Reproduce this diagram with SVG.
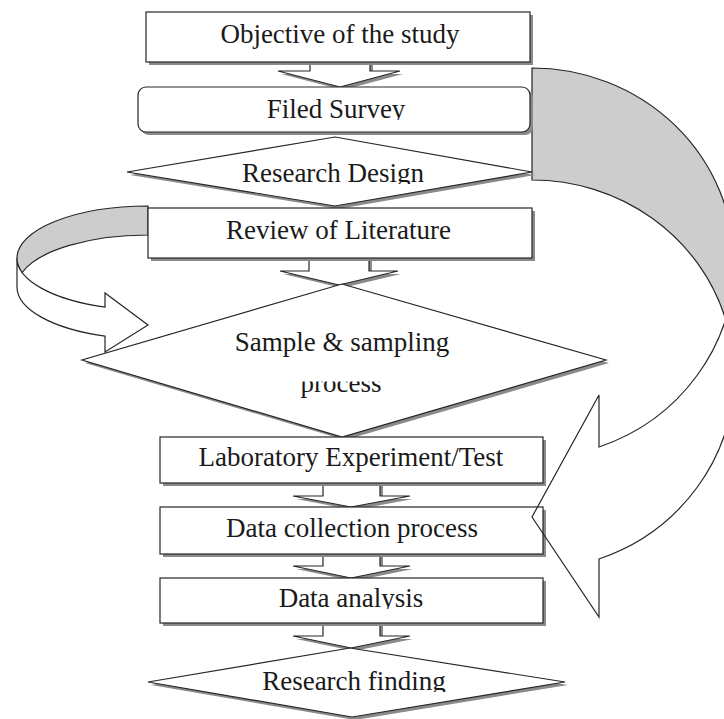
<svg xmlns="http://www.w3.org/2000/svg" width="724" height="719" viewBox="0 0 724 719">
  <style>
    .box { fill: #ffffff; stroke: #262626; stroke-width: 1.2; }
    .shadow { fill: #8a8a8a; stroke: none; }
    .band { fill: #ffffff; stroke: #262626; stroke-width: 1.2; stroke-linejoin: miter; }
    .band-fill { fill: #ffffff; stroke: none; }
    .band-line { fill: none; stroke: #262626; stroke-width: 1.2; stroke-linejoin: miter; }
    .back { fill: #cdcdcd; stroke: #262626; stroke-width: 1.2; }
    .label { font-family: "Liberation Serif", "Times New Roman", serif; font-size: 27px; fill: #1a1a1a; text-anchor: middle; }
  </style>
  <defs>
    <!-- text frames that trim glyph parts outside each label area -->
    <clipPath id="clip-filed"><rect x="140" y="90" width="390" height="30"/></clipPath>
    <clipPath id="clip-design"><rect x="140" y="150" width="390" height="34"/></clipPath>
    <clipPath id="clip-process"><rect x="200" y="381.5" width="280" height="30"/></clipPath>
    <clipPath id="clip-analysis"><rect x="170" y="580" width="370" height="29"/></clipPath>
    <clipPath id="clip-finding"><rect x="160" y="660" width="400" height="32"/></clipPath>
    <path id="right-front" d="M734,263 L734,375 A202,195 0 0 1 599,559 L599,617 L532,517 L599,395 L599,447 A202,195 0 0 0 734,263 Z"/>
  </defs>

  <!-- connectors: block arrows between the steps and the two curved return arrows -->
  <g id="connectors">
    <g id="curved-left">
      <path class="band" d="M17,258 L17,287 A131,52 0 0 0 105,336.1 L105,352 L148,325 L105,293 L105,307.1 A131,52 0 0 1 17,258 Z"/>
      <path class="back" d="M148,206 A131,52 0 0 0 17,258 A131,52 0 0 0 22.2,272.5 A131,52 0 0 1 148,235 Z"/>
    </g>
    <!-- right return arrow: fill sits under the step boxes, outline is drawn last -->
    <g id="curved-right-fill">
      <use href="#right-front" class="band-fill"/>
      <path class="back" d="M532,68 A202,195 0 0 1 734,263 A202,195 0 0 1 725.5,319 A202,195 0 0 0 532,180 Z"/>
    </g>
    <g id="down-arrows">
      <polygon class="shadow" points="313,58 313,74 281,74 343,90 403,74 373,74 373,58"/>
      <polygon class="box" points="310,55 310,71 278,71 340,87 400,71 370,71 370,55"/>
      <polygon class="shadow" points="312,253 312,274 283,274 342,288 401,274 372,274 372,253"/>
      <polygon class="box" points="309,250 309,271 280,271 339,285 398,271 369,271 369,250"/>
      <polygon class="shadow" points="326,478 326,499 296,499 354,510 413,499 383,499 383,478"/>
      <polygon class="box" points="323,475 323,496 293,496 351,507 410,496 380,496 380,475"/>
      <polygon class="shadow" points="326,548 326,569 296,569 354,581 413,569 383,569 383,548"/>
      <polygon class="box" points="323,545 323,566 293,566 351,578 410,566 380,566 380,545"/>
      <polygon class="shadow" points="326,618 326,639 296,639 354,651 413,639 383,639 383,618"/>
      <polygon class="box" points="323,615 323,636 293,636 351,648 410,636 380,636 380,615"/>
    </g>
  </g>

  <g id="objective">
    <rect class="shadow" x="149" y="15" width="384" height="50"/>
    <rect class="box" x="146" y="12" width="384" height="50"/>
    <text class="label" x="340" y="43">Objective of the study</text>
  </g>

  <g id="field-survey">
    <rect class="shadow" x="141" y="90" width="392" height="45" rx="8"/>
    <rect class="box" x="138" y="87" width="392" height="45" rx="8"/>
    <text class="label" x="336" y="118" clip-path="url(#clip-filed)">Filed Survey</text>
  </g>

  <g id="research-design">
    <polygon class="shadow" points="338,140 535,175 338,209 130,175"/>
    <polygon class="box" points="335,137 532,172 335,206 127,172"/>
    <text class="label" x="333" y="182" clip-path="url(#clip-design)">Research Design</text>
  </g>

  <g id="review-literature">
    <rect class="shadow" x="151" y="211" width="384" height="50"/>
    <rect class="box" x="148" y="208" width="384" height="50"/>
    <text class="label" x="338.5" y="239">Review of Literature</text>
  </g>

  <g id="sampling">
    <polygon class="shadow" points="345,287 609,363 345,440 85,363"/>
    <polygon class="box" points="342,284 606,360 342,437 82,360"/>
    <text class="label" x="342" y="351">Sample &amp; sampling</text>
    <text class="label" x="341" y="392" clip-path="url(#clip-process)">process</text>
  </g>

  <g id="laboratory">
    <rect class="shadow" x="163" y="440" width="383" height="46"/>
    <rect class="box" x="160" y="437" width="383" height="46"/>
    <text class="label" x="351" y="466">Laboratory Experiment/Test</text>
  </g>

  <g id="data-collection">
    <rect class="shadow" x="163" y="510" width="383" height="47"/>
    <rect class="box" x="160" y="507" width="383" height="47"/>
    <text class="label" x="352" y="537">Data collection process</text>
  </g>

  <g id="data-analysis">
    <rect class="shadow" x="163" y="581" width="383" height="45"/>
    <rect class="box" x="160" y="578" width="383" height="45"/>
    <text class="label" x="351" y="607" clip-path="url(#clip-analysis)">Data analysis</text>
  </g>

  <g id="research-finding">
    <polygon class="shadow" points="353,651 568,685 355,720 151,685"/>
    <polygon class="box" points="350,648 565,682 352,717 148,682"/>
    <text class="label" x="354" y="690" clip-path="url(#clip-finding)">Research finding</text>
  </g>

  <!-- outline of the right return arrow, on top of the step boxes -->
  <g id="curved-right-outline">
    <use href="#right-front" class="band-line"/>
  </g>
</svg>
